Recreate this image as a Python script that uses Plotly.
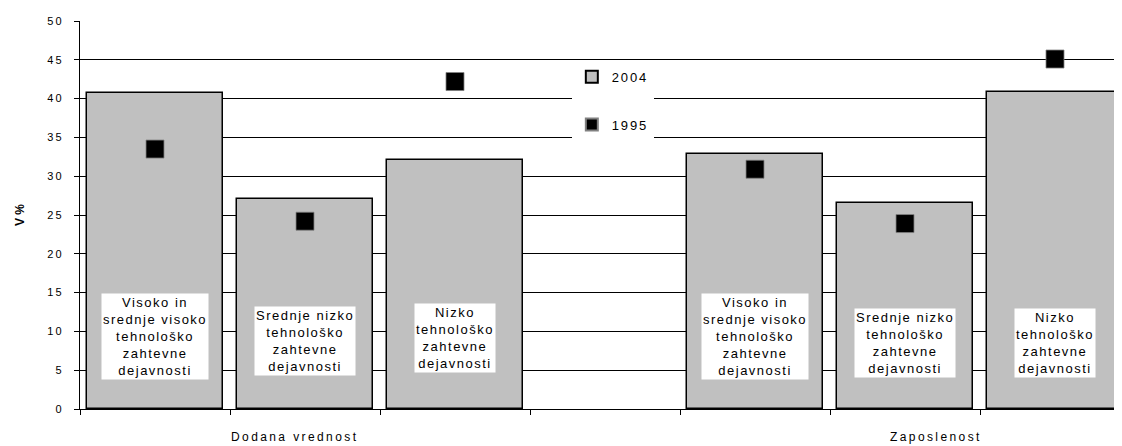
import plotly.graph_objects as go

# ---- data ----
groups = ["Dodana vrednost", "Zaposlenost"]
industries = [
    ["Visoko in", "srednje visoko", "tehnološko", "zahtevne", "dejavnosti"],
    ["Srednje nizko", "tehnološko", "zahtevne", "dejavnosti"],
    ["Nizko", "tehnološko", "zahtevne", "dejavnosti"],
]
values_2004 = [40.7, 27.1, 32.1, 32.8, 26.6, 40.8]
values_1995 = [33.5, 24.2, 42.2, 30.9, 23.9, 45.1]
y_ticks = [0, 5, 10, 15, 20, 25, 30, 35, 40, 45, 50]

# ---- layout helpers ----
FONT = "Arial, Liberation Sans, sans-serif"


def sp(s, ls=1.6):
    return f'<span style="letter-spacing:{ls}px">{s}</span>'


# slot positions: 3 bars, empty slot, 3 bars
xpos = []
for g in range(len(groups)):
    for i in range(len(industries)):
        xpos.append(g * (len(industries) + 1) + i)

fig = go.Figure()
fig.add_trace(go.Bar(
    x=xpos, y=values_2004, name=sp("2004", 1.8), width=0.907,
    marker=dict(color="#C0C0C0", line=dict(color="#000000", width=1.5)),
    legendgroup="a",
))
fig.add_trace(go.Scatter(
    x=xpos, y=values_1995, name=sp("1995", 1.8), mode="markers",
    marker=dict(symbol="square", size=18, color="#000000",
                line=dict(color="#808080", width=0.8)),
    legendgroup="b",
))

label_y = [9.4, 8.7, 9.2, 9.4, 8.5, 8.5]
annotations = []
for k, x in enumerate(xpos):
    lines = industries[k % len(industries)]
    annotations.append(dict(
        x=x, y=label_y[k], xref="x", yref="y",
        text="<br>".join(sp(l, 1.5) for l in lines),
        showarrow=False, bgcolor="#FFFFFF", borderpad=1,
        font=dict(family=FONT, size=13, color="#000000"),
        align="center",
    ))

group_label_x = [0.933, 5.207]
for g, name in enumerate(groups):
    annotations.append(dict(
        x=group_label_x[g], y=-0.072, xref="x", yref="paper",
        text=sp(name, 2.4), showarrow=False,
        font=dict(family=FONT, size=12, color="#000000"),
        yanchor="middle",
    ))

fig.update_layout(
    width=1114, height=438,
    margin=dict(l=72, r=0, t=13, b=37, autoexpand=False),
    paper_bgcolor="#FFFFFF", plot_bgcolor="#FFFFFF",
    font=dict(family=FONT, size=12, color="#000000"),
    showlegend=True,
    legend=dict(
        x=0.472, y=0.895, xanchor="left", yanchor="top",
        bgcolor="#FFFFFF", borderwidth=0,
        traceorder="grouped", tracegroupgap=28, itemsizing="constant",
        font=dict(family=FONT, size=13, color="#000000"),
    ),
    annotations=annotations,
    bargap=0,
)
fig.update_xaxes(
    range=[-0.5, 6.4467], showgrid=False, zeroline=False, automargin=False,
    showline=True, linecolor="#000000", linewidth=1,
    tickvals=[v - 0.5 for v in range(8)], ticktext=[""] * 8,
    ticks="outside", ticklen=5, tickcolor="#000000", tickwidth=1,
)
fig.update_yaxes(
    range=[0, 50], showgrid=True, gridcolor="#000000", gridwidth=1,
    zeroline=False, showline=True, linecolor="#000000", linewidth=1,
    automargin=False,
    tickvals=y_ticks, ticktext=[sp(str(v), 2.2) for v in y_ticks],
    ticks="outside", ticklen=5, tickcolor="#000000", tickwidth=1,
    ticklabelstandoff=8,
    tickfont=dict(family=FONT, size=11, color="#000000"),
    title=dict(text="<b>V %</b>", font=dict(family=FONT, size=12, color="#000000"),
               standoff=19),
)

fig.write_html("out.html")
